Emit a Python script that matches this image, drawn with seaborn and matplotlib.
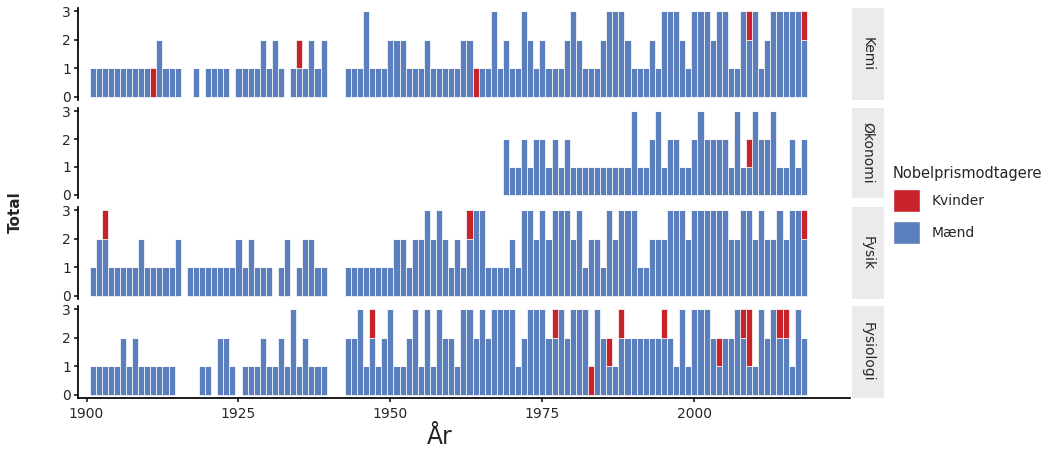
import numpy as np
import pandas as pd
import matplotlib
matplotlib.use("Agg")
import matplotlib.pyplot as plt
import seaborn as sns

years = list(range(1901, 2019))
categories = ["Kemi", "Økonomi", "Fysik", "Fysiologi"]

kemi_total = [1,1,1,1,1,1,1,1,1,1,1,2,1,1,1,0,0,1,0,1,1,1,1,0,1,1,1,1,2,1,2,1,0,1,2,1,2,1,2,0,0,0,
              1,1,1,3,1,1,1,2,2,2,1,1,1,2,1,1,1,1,1,2,2,1,1,1,3,1,2,1,1,3,2,1,2,1,1,1,2,3,2,1,1,1,2,3,3,3,2,
              1,1,1,2,1,3,3,3,2,1,3,3,3,2,3,3,1,1,3,3,3,1,2,3,3,3,3,3,3]
kemi_women = {1911:1, 1935:1, 1964:1, 2009:1, 2018:1}

okonomi_total = [0]*68 + [2,1,1,2,1,2,2,1,2,1,2,1,1,1,1,1,1,1,1,1,1,3,1,1,2,3,1,2,2,1,1,2,3,2,2,2,2,1,3,1,2,3,2,2,3,1,1,2,1,2]
okonomi_women = {2009:1}

fysik_total = [1,2,3,1,1,1,1,1,2,1,1,1,1,1,2,0,1,1,1,1,1,1,1,1,2,1,2,1,1,1,0,1,2,0,1,2,2,1,1,0,0,0,
               1,1,1,1,1,1,1,1,2,2,1,2,2,3,2,3,2,1,2,1,3,3,3,1,1,1,1,2,1,3,3,2,3,2,3,3,3,2,3,1,2,2,1,3,2,3,3,3,
               1,1,2,2,2,3,3,3,2,3,3,3,3,3,3,2,2,3,3,2,3,2,2,3,2,3,3,3]
fysik_women = {1903:1, 1963:1, 2018:1}

fysiologi_total = [1,1,1,1,1,2,1,2,1,1,1,1,1,1,0,0,0,0,1,1,0,2,2,1,0,1,1,1,2,1,1,2,1,3,1,2,1,1,1,0,0,0,
                   2,2,3,1,3,1,2,3,1,1,2,3,1,3,1,3,2,2,1,3,3,2,3,2,3,3,3,3,1,2,3,3,3,2,3,3,2,3,3,3,1,3,2,2,1,3,2,
                   2,2,2,2,2,3,2,1,3,1,3,3,3,2,2,2,2,3,3,3,1,3,2,3,3,3,1,3,2]
fysiologi_women = {1947:1, 1977:1, 1983:1, 1986:1, 1988:1, 1995:1, 2004:1, 2008:1, 2009:2, 2014:1, 2015:1}

totals = {"Kemi": kemi_total, "Økonomi": okonomi_total, "Fysik": fysik_total, "Fysiologi": fysiologi_total}
women = {"Kemi": kemi_women, "Økonomi": okonomi_women, "Fysik": fysik_women, "Fysiologi": fysiologi_women}

rows = []
for c in categories:
    for y, t in zip(years, totals[c]):
        w = women[c].get(y, 0)
        rows.append({"year": y, "cat": c, "Mænd": t - w, "Kvinder": w})
df = pd.DataFrame(rows)

sns.set_theme(style="white")
blue = "#5b7fbd"
red = "#c8232b"

fig = plt.figure(figsize=(10.5, 4.58), dpi=100)
W, H = 1050, 458
panel_px = [(8, 100), (108, 198), (207, 299), (306, 398)]
axes = []
for i, (c, (t, b)) in enumerate(zip(categories, panel_px)):
    ax = fig.add_axes([78 / W, 1 - b / H, (850 - 78) / W, (b - t) / H])
    sub = df[df.cat == c]
    ax.bar(sub.year, sub["Mænd"], width=1.0, color=blue, edgecolor="white", linewidth=0.5)
    ax.bar(sub.year, sub["Kvinder"], bottom=sub["Mænd"], width=1.0, color=red, edgecolor="white", linewidth=0.5)
    ax.set_xlim(1898.6, 2025.6)
    ax.set_ylim(-0.12, 3.12)
    ax.set_yticks([0, 1, 2, 3])
    ax.tick_params(axis="y", labelsize=10, length=3, left=True, pad=2)
    sns.despine(ax=ax, top=True, right=True, bottom=(i < 3))
    ax.spines["left"].set_color("black")
    ax.spines["bottom"].set_color("black")
    if i < 3:
        ax.set_xticks([])
    else:
        ax.set_xticks([1900, 1925, 1950, 1975, 2000])
        ax.tick_params(axis="x", labelsize=10, length=3, bottom=True)
    ax.set_xlabel("")
    ax.set_ylabel("")
    # strip
    sax = fig.add_axes([852 / W, 1 - b / H, 32 / W, (b - t) / H])
    sax.set_facecolor("#ebebeb")
    sax.set_xticks([]); sax.set_yticks([])
    for s in sax.spines.values():
        s.set_visible(False)
    sax.text(0.5, 0.5, c, rotation=-90, ha="center", va="center", fontsize=10, transform=sax.transAxes)
    axes.append(ax)

fig.text(440 / W, 1 - 437 / H, "År", fontsize=17, ha="center", va="center")
fig.text(15 / W, 1 - 212 / H, "Total", fontsize=11, fontweight="bold", rotation=90, ha="center", va="center")

from matplotlib.patches import Patch
handles = [Patch(facecolor=red, edgecolor="white"), Patch(facecolor=blue, edgecolor="white")]
leg = fig.legend(handles, ["Kvinder", "Mænd"], title="Nobelprismodtagere", loc="center left",
                 bbox_to_anchor=(880 / W, 1 - 205 / H), frameon=False, fontsize=10, title_fontsize=10.5,
                 handlelength=2.0, handleheight=2.2, labelspacing=0.6)
leg._legend_box.align = "left"

fig.savefig("out.png", dpi=100)
